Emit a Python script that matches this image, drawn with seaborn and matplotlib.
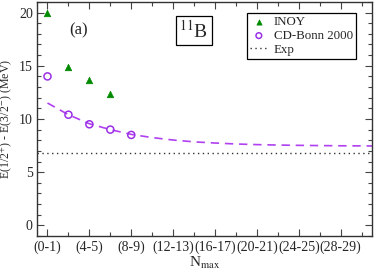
import matplotlib
matplotlib.use("Agg")
import matplotlib.pyplot as plt
import seaborn as sns
import pandas as pd
from matplotlib.ticker import MultipleLocator, FixedLocator

# Data
x_inoy = [0, 2, 4, 6]
y_inoy = [20.0, 14.9, 13.65, 12.3]
x_cdb = [0, 2, 4, 6, 8]
y_cdb = [14.0, 10.4, 9.5, 9.0, 8.5]
x_fit = [0, 2, 4, 6, 8, 10, 12, 14, 16, 18, 20, 22, 24, 26, 28, 30, 31]
y_fit = [11.5, 10.4, 9.55, 9.0, 8.55, 8.25, 8.02, 7.85, 7.74, 7.65, 7.59, 7.55, 7.52, 7.5, 7.48, 7.47, 7.46]
exp_val = 6.79
xtick_pos = [0, 4, 8, 12, 16, 20, 24, 28]
xtick_labels = ["(0-1)", "(4-5)", "(8-9)", "(12-13)", "(16-17)", "(20-21)", "(24-25)", "(28-29)"]

sns.set_style("ticks")
plt.rcParams['font.family'] = ['Liberation Serif', 'DejaVu Serif']
plt.rcParams['mathtext.fontset'] = 'stix'

fig = plt.figure(figsize=(3.74, 2.71), dpi=100)
ax = fig.add_axes([0.099, 0.129, 0.896, 0.864])

purple = "#9b30e6"
green = "#008a00"

sns.lineplot(x=x_fit, y=y_fit, ax=ax, color="#b040f0", lw=1.2, legend=False)
ax.lines[-1].set_dashes((5, 3.5))
sns.lineplot(x=[-1, 31], y=[exp_val, exp_val], ax=ax, color="#333333", lw=1.0, legend=False)
ax.lines[-1].set_linestyle((0, (1, 2.5)))
ax.lines[-1].set_label("Exp")

sns.scatterplot(x=x_inoy, y=y_inoy, ax=ax, marker="^", s=22, color=green, edgecolor=green,
                linewidth=0.5, label="INOY", zorder=5)
sns.scatterplot(x=x_cdb, y=y_cdb, ax=ax, marker="o", s=26, facecolor="none", edgecolor=purple,
                linewidth=1.1, label="CD-Bonn 2000", zorder=5)

ax.set_xlim(-1, 31)
ax.set_ylim(-1, 21)
ax.xaxis.set_major_locator(FixedLocator(xtick_pos))
ax.set_xticklabels(xtick_labels)
ax.xaxis.set_minor_locator(MultipleLocator(2))
ax.yaxis.set_major_locator(MultipleLocator(5))
ax.yaxis.set_minor_locator(MultipleLocator(1))
ax.tick_params(which="both", direction="in", top=True, right=True, labelsize=10, color="#444444")
ax.tick_params(which="major", length=5, width=0.8)
ax.tick_params(which="minor", length=3, width=0.8)
ax.tick_params(axis="x", which="major", pad=3)
ax.tick_params(axis="y", which="major", pad=3)
for sp in ax.spines.values():
    sp.set_linewidth(1.0)
    sp.set_color("#333333")

ax.set_xlabel("N$_{\\mathrm{max}}$", fontsize=11, labelpad=1)
ax.set_ylabel("E(1/2$^{+}$) - E(3/2$^{-}$) (MeV)", fontsize=8.6, labelpad=3)

ax.text(2.1, 18.3, "(a)", fontsize=12, ha="left", va="center")
ax.text(12.6, 18.3, "$^{11}$B", fontsize=14, ha="left", va="center",
        bbox=dict(boxstyle="square,pad=0.18", fc="white", ec="black", lw=0.9))

handles, labels = ax.get_legend_handles_labels()
order = [labels.index("INOY"), labels.index("CD-Bonn 2000"), labels.index("Exp")]
leg = ax.legend([handles[i] for i in order], [labels[i] for i in order],
                loc="upper right", bbox_to_anchor=(0.952, 0.952), fontsize=9.3,
                frameon=True, fancybox=False, edgecolor="black", framealpha=1,
                handlelength=1.3, handletextpad=0.5, borderpad=0.25, labelspacing=0.12,
                borderaxespad=0, markerscale=0.8)
leg.get_frame().set_linewidth(0.9)

fig.savefig("out.png", dpi=100)
